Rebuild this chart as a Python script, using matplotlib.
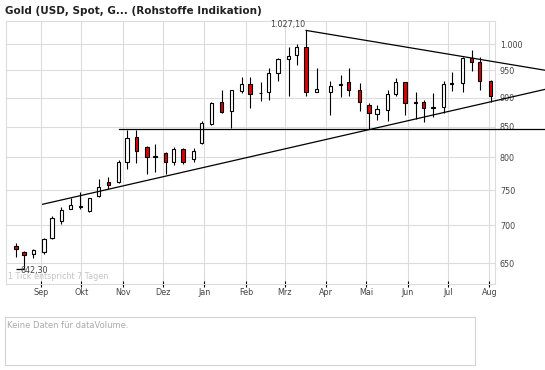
import matplotlib
matplotlib.use("Agg")
import matplotlib.pyplot as plt
import matplotlib.dates as mdates
import numpy as np
from matplotlib.ticker import FixedLocator, NullLocator

# weekly candles, Gold spot in USD
dates = [
    "2007-08-13", "2007-08-19", "2007-08-26", "2007-09-03", "2007-09-09",
    "2007-09-16", "2007-09-23", "2007-09-30", "2007-10-07", "2007-10-14",
    "2007-10-21", "2007-10-29", "2007-11-04", "2007-11-11", "2007-11-19",
    "2007-11-25", "2007-12-03", "2007-12-09", "2007-12-16", "2007-12-24",
    "2007-12-30", "2008-01-06", "2008-01-14", "2008-01-21", "2008-01-29",
    "2008-02-04", "2008-02-12", "2008-02-18", "2008-02-25", "2008-03-04",
    "2008-03-10", "2008-03-17", "2008-03-25", "2008-04-04", "2008-04-12",
    "2008-04-18", "2008-04-26", "2008-05-03", "2008-05-09", "2008-05-17",
    "2008-05-23", "2008-05-30", "2008-06-07", "2008-06-13", "2008-06-20",
    "2008-06-28", "2008-07-04", "2008-07-12", "2008-07-19", "2008-07-25",
    "2008-08-02",
]
opens = [
    671.7, 664.2, 662.0, 663.8, 683.2, 706.4, 723.3, 725.5, 720.0, 741.1,
    761.8, 762.7, 792.4, 832.3, 816.6, 801.5, 807.0, 792.4, 812.9, 798.0,
    822.6, 854.4, 892.7, 875.9, 912.2, 923.8, 907.5, 909.4, 944.0, 970.3,
    978.0, 993.5, 909.4, 909.4, 923.3, 927.4, 912.9, 887.5, 871.9, 878.8,
    905.8, 927.4, 892.2, 891.7, 882.4, 882.9, 926.1, 925.6, 972.3, 964.6,
    929.8,
]
highs = [
    676.5, 665.9, 668.6, 682.8, 713.4, 725.3, 738.2, 747.4, 739.1, 766.4,
    769.4, 795.5, 844.3, 844.3, 817.7, 821.4, 808.1, 816.1, 814.6, 814.6,
    859.9, 892.7, 913.5, 912.9, 936.6, 936.6, 928.0, 953.3, 972.3, 993.5,
    999.4, 1027.1, 953.3, 929.2, 940.3, 953.3, 925.6, 890.9, 887.5, 914.0,
    934.7, 927.4, 910.5, 895.2, 907.6, 929.2, 945.8, 974.2, 988.3, 974.2,
    931.7,
]
lows = [
    657.3, 642.3, 656.8, 661.9, 681.8, 701.8, 722.4, 722.8, 718.6, 740.5,
    751.4, 760.9, 782.5, 790.8, 774.4, 777.9, 774.4, 788.6, 789.8, 792.4,
    821.0, 852.7, 873.6, 848.2, 908.6, 882.2, 894.5, 895.7, 930.4, 903.3,
    959.0, 903.3, 909.4, 870.2, 901.5, 903.3, 877.0, 845.5, 861.7, 859.9,
    903.3, 869.6, 862.3, 858.3, 866.8, 872.6, 912.2, 910.5, 948.8, 914.0,
    892.7,
]
closes = [
    667.8, 659.9, 666.8, 681.0, 710.6, 721.0, 728.1, 726.5, 738.2, 754.4,
    758.2, 792.9, 830.7, 810.7, 800.7, 800.0, 792.9, 812.9, 792.9, 810.2,
    855.6, 890.9, 875.3, 912.9, 923.8, 906.8, 908.5, 944.0, 970.3, 976.1,
    993.5, 909.4, 914.8, 920.2, 924.3, 914.0, 891.7, 873.6, 880.5, 905.8,
    927.4, 889.9, 891.2, 881.2, 883.4, 923.8, 925.1, 972.3, 964.6, 929.2,
    902.2,
]

# trend lines (date, price)
upper_line = (["2008-03-17", "2008-09-12"], [1027.1, 949.6])
lower_line = (["2007-09-02", "2008-09-12"], [729.6, 914.8])
support_line = (["2007-10-29", "2008-09-12"], [846.0, 846.0])

high_label = "1.027,10"
low_label = "642,30"

month_starts = ["2007-09-01", "2007-10-01", "2007-11-01", "2007-12-01",
                "2008-01-01", "2008-02-01", "2008-03-01", "2008-04-01",
                "2008-05-01", "2008-06-01", "2008-07-01", "2008-08-01"]
month_labels = ["Sep", "Okt", "Nov", "Dez", "Jan", "Feb", "Mrz", "Apr",
                "Mai", "Jun", "Jul", "Aug"]
price_ticks = [650, 700, 750, 800, 850, 900, 950, 1000]
price_labels = ["650", "700", "750", "800", "850", "900", "950", "1.000"]

W, H = 545, 370
GRID = "#dcdcdc"
TEXT = "#444444"
plt.rcParams["font.family"] = ["DejaVu Sans"]

fig = plt.figure(figsize=(W / 100, H / 100), dpi=100)
ax = fig.add_axes([5.5 / W, 86 / H, 489.5 / W, 263 / H])

x = mdates.datestr2num(dates)
o = np.array(opens)
h = np.array(highs)
l = np.array(lows)
c = np.array(closes)

ax.vlines(x, l, h, color="black", lw=0.8, zorder=3)
up = c >= o
ax.bar(x, np.abs(c - o), bottom=np.minimum(o, c), width=2.4,
       color=np.where(up, "white", "#dd0000"), edgecolor="black",
       linewidth=0.8, zorder=4)

for xs, ys in (upper_line, lower_line, support_line):
    ax.plot(mdates.datestr2num(xs), ys, color="black", lw=0.9,
            clip_on=False, zorder=5)

i_hi = int(np.argmax(h))
i_lo = int(np.argmin(l))
ax.annotate(high_label, (x[i_hi], h[i_hi]), xytext=(-1, 1),
            textcoords="offset pixels", ha="right", va="bottom",
            fontsize=5.8, color=TEXT)
ax.hlines(l[i_lo], x[i_lo] - 6, x[i_lo], color="black", lw=0.9, zorder=5)
ax.annotate(low_label, (x[i_lo], l[i_lo]), xytext=(-3, -1),
            textcoords="offset pixels", ha="left", va="center",
            fontsize=5.8, color=TEXT, zorder=6)
ax.text(0.005, 0.03, "1 Tick entspricht 7 Tagen", transform=ax.transAxes,
        fontsize=5.8, color="#c4c4c4", ha="left", va="center", zorder=1)

x0 = mdates.datestr2num("2007-09-01")
ax.set_xlim(x0 - 26.8, x0 + 339.3)
ax.set_yscale("log")
ax.set_ylim(623.7, 1046.3)

ax.xaxis.set_major_locator(FixedLocator(mdates.datestr2num(month_starts)))
ax.set_xticklabels(month_labels)
ax.xaxis.set_minor_locator(NullLocator())
ax.yaxis.set_major_locator(FixedLocator(price_ticks))
ax.yaxis.set_minor_locator(NullLocator())
ax.set_yticklabels(price_labels)
ax.yaxis.tick_right()
ax.tick_params(axis="y", length=0, pad=3.6, labelsize=5.8, labelcolor=TEXT)
ax.tick_params(axis="x", direction="inout", length=4, width=0.8,
               color="black", pad=1, labelsize=5.8, labelcolor=TEXT)
ax.grid(True, color=GRID, lw=0.8, zorder=0)
ax.set_axisbelow(True)
for s in ax.spines.values():
    s.set_color(GRID)
    s.set_linewidth(0.8)

fig.text(5 / W, 1 - 11 / H, "Gold (USD, Spot, G... (Rohstoffe Indikation)",
         fontsize=7.5, fontweight="bold", color="#222222", va="center")

# empty volume panel
vol = fig.add_axes([5 / W, 5 / H, 470 / W, 48 / H])
vol.set_xticks([])
vol.set_yticks([])
for s in vol.spines.values():
    s.set_color("#d4d4d4")
    s.set_linewidth(0.8)
vol.text(0.004, 0.83, "Keine Daten für dataVolume.", transform=vol.transAxes,
         fontsize=6, color="#aaaaaa", ha="left", va="center")

fig.savefig("out.png", dpi=100)
